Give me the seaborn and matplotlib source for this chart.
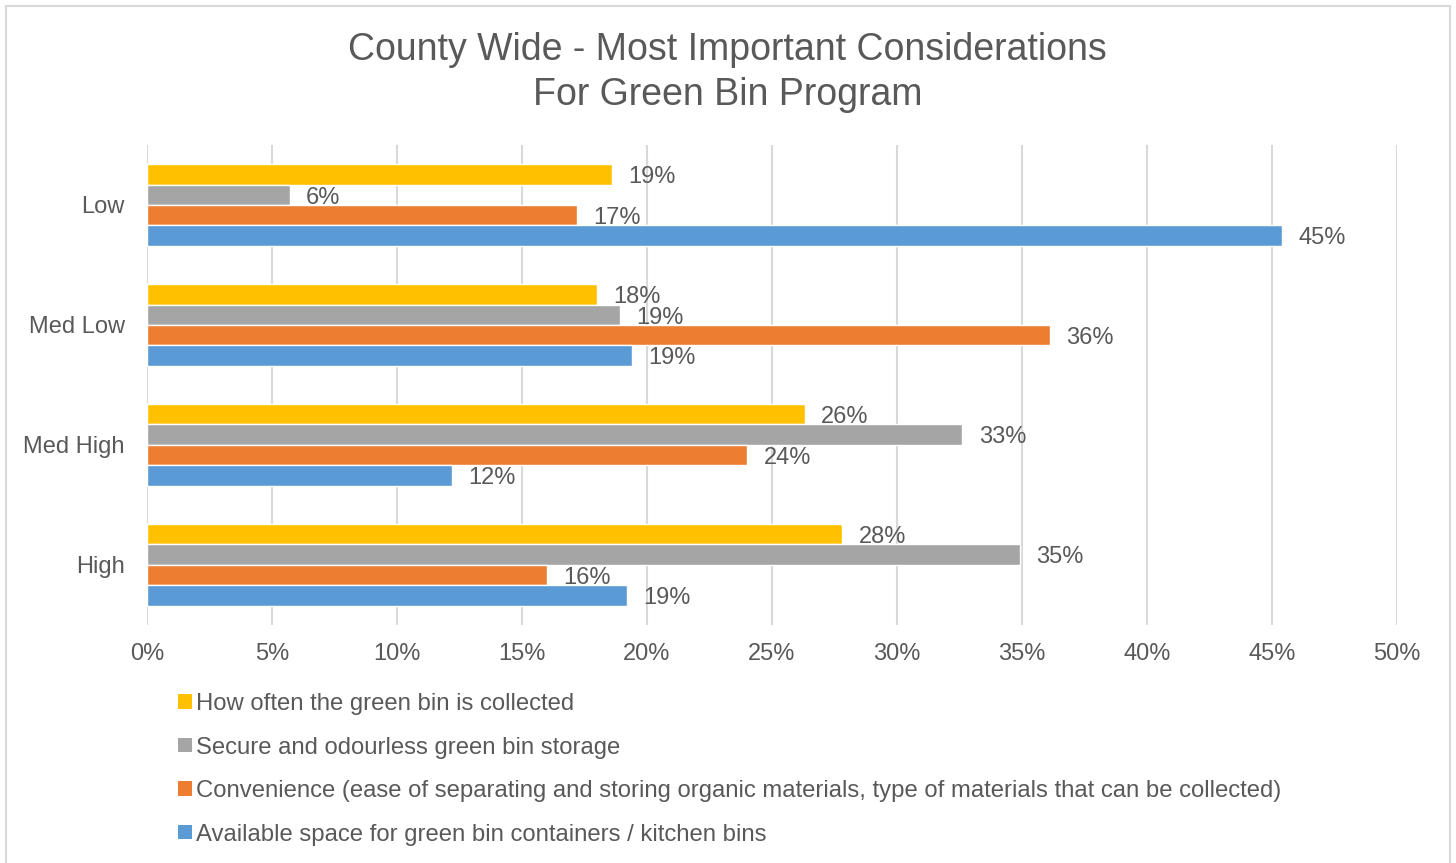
import pandas as pd
import matplotlib
matplotlib.use("Agg")
import matplotlib.pyplot as plt
from matplotlib.patches import Patch, Rectangle
from matplotlib.ticker import MultipleLocator, PercentFormatter
import seaborn as sns

# data (percent)
groups = ["Low", "Med Low", "Med High", "High"]
series = [
    "How often the green bin is collected",
    "Secure and odourless green bin storage",
    "Convenience (ease of separating and storing organic materials, type of materials that can be collected)",
    "Available space for green bin containers / kitchen bins",
]
how_often = [18.6, 18.0, 26.3, 27.8]
secure = [5.7, 18.9, 32.6, 34.9]
convenience = [17.2, 36.1, 24.0, 16.0]
space = [45.4, 19.4, 12.2, 19.2]
colors = ["#FFC000", "#A5A5A5", "#ED7D31", "#5B9BD5"]

rows = []
for name, vals in zip(series, [how_often, secure, convenience, space]):
    for g, v in zip(groups, vals):
        rows.append({"group": g, "series": name, "value": v})
df = pd.DataFrame(rows)

sns.set_style("white")
plt.rcParams["font.family"] = ["Liberation Sans", "DejaVu Sans"]
txt = "#595959"

fig = plt.figure(figsize=(14.56, 8.63), dpi=100)
ax = fig.add_axes([0.101, 0.276, 0.8585, 0.556])

sns.barplot(data=df, y="group", x="value", hue="series", order=groups,
            hue_order=series, palette=colors, orient="h", width=0.68,
            saturation=1, legend=False, ax=ax)

# value labels to the right of each bar
for cont in ax.containers:
    for b in cont:
        w = b.get_width()
        ax.annotate(f"{round(w):.0f}%", (w, b.get_y() + b.get_height() / 2),
                    xytext=(12, -2), textcoords="offset points",
                    ha="left", va="center", fontsize=17, color=txt)

ax.set_xlim(0, 50)
ax.set_ylim(3.5, -0.5)
ax.xaxis.set_major_locator(MultipleLocator(5))
ax.xaxis.set_major_formatter(PercentFormatter(decimals=0))
ax.grid(axis="x", color="#D9D9D9", lw=1.5)
ax.set_axisbelow(True)
for s in ax.spines.values():
    s.set_visible(False)
ax.tick_params(axis="both", length=0, labelsize=17, colors=txt)
ax.tick_params(axis="x", pad=13)
ax.tick_params(axis="y", pad=16)
ax.set_xlabel("")
ax.set_ylabel("")

fig.text(0.4995, 0.916, "County Wide - Most Important Considerations\nFor Green Bin Program",
         ha="center", va="center", fontsize=27, color=txt, linespacing=1.3)

handles = [Patch(facecolor=c, edgecolor="none") for c in colors]
fig.legend(handles, series, loc="upper left", bbox_to_anchor=(0.116, 0.208),
           frameon=False, fontsize=17.2, labelcolor=txt, handlelength=0.55,
           handleheight=0.55, handletextpad=0.18, labelspacing=0.9,
           borderaxespad=0)

fig.patches.append(Rectangle((6 / 1456, -0.01), 1444 / 1456, 1 - 6 / 863 + 0.01,
                             transform=fig.transFigure, fill=False,
                             edgecolor="#D9D9D9", lw=1.5))

fig.savefig("out.png", dpi=100)
